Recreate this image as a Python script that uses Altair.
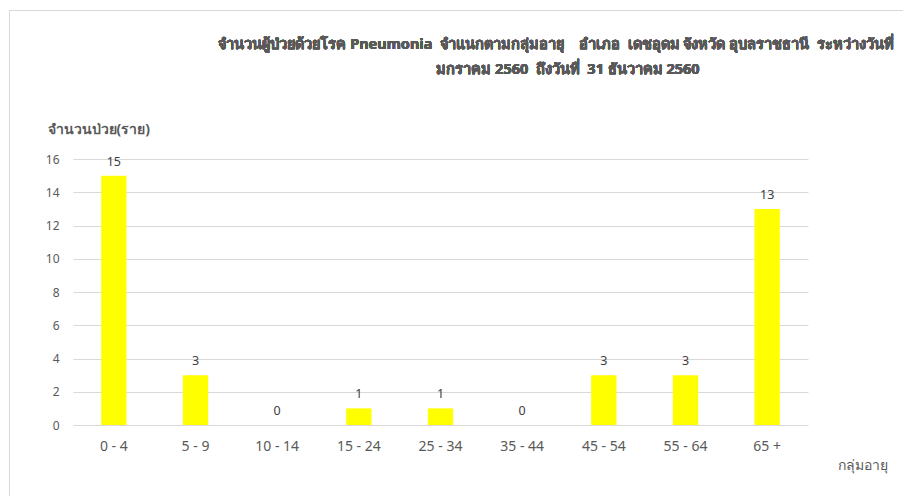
import altair as alt
import pandas as pd

categories = ["0 - 4", "5 - 9", "10 - 14", "15 - 24", "25 - 34", "35 - 44", "45 - 54", "55 - 64", "65 +"]
values = [15, 3, 0, 1, 1, 0, 3, 3, 13]
y_ticks = [0, 2, 4, 6, 8, 10, 12, 14, 16]
NB = "\u00a0"
title_line1 = ("จำนวนผู้ป่วยด้วยโรค Pneumonia " + NB + "จำแนกตามกลุ่มอายุ " + NB * 3
               + "อำเภอ " + NB + "เดชอุดม จังหวัด อุบลราชธานี " + NB + "ระหว่างวันที่")
title_line2 = "มกราคม 2560 " + NB + "ถึงวันที่ " + NB + "31 ธันวาคม 2560"
y_title = "จำนวนป่วย(ราย)"
x_title = "กลุ่มอายุ"

df = pd.DataFrame({"group": categories, "count": values})

FONT = "Noto Sans"
W, H = 735, 266

x_enc = alt.X(
    "group:N",
    sort=categories,
    scale=alt.Scale(paddingInner=0.69, paddingOuter=0.345),
    axis=alt.Axis(
        title=x_title, labelAngle=0, labelPadding=14, labelFontSize=14,
        labelColor="#595959", labelFont=FONT, domain=False, ticks=False,
        titleX=789, titleY=40, titleAlign="center", titleBaseline="middle",
        titleFontSize=14, titleFontWeight="normal", titleColor="#595959", titleFont=FONT,
    ),
)
y_enc = alt.Y(
    "count:Q",
    scale=alt.Scale(domain=[0, 16]),
    axis=alt.Axis(
        title=y_title, values=y_ticks, tickCount=20,
        labelOverlap=False,
        labelPadding=14, labelFontSize=12,
        labelColor="#595959", labelFont=FONT, domain=False, ticks=False,
        gridColor="#d9d9d9", gridWidth=1,
        titleAngle=0, titleX=-26, titleY=-30, titleAlign="left", titleBaseline="middle",
        titleFontSize=14, titleFontWeight="bold", titleColor="#595959", titleFont=FONT,
    ),
)

bars = alt.Chart(df).mark_bar(color="#ffff00").encode(x=x_enc, y=y_enc)
labels = alt.Chart(df).mark_text(
    baseline="bottom", dy=-7, fontSize=12.5, color="#404040", font=FONT
).encode(x=x_enc, y=y_enc, text="count:Q")

frame = alt.Chart(df).mark_rect(fill=None, stroke="#d9d9d9", strokeWidth=1).encode(
    x=alt.value(-63.5), x2=alt.value(W + 200), y=alt.value(-148.5), y2=alt.value(H + 200)
)

t1 = alt.Chart(df).mark_text(
    align="center", baseline="alphabetic", fontSize=14.5, fontWeight="bold",
    color="#595959", font=FONT,
).encode(x=alt.value(483), y=alt.value(-110), text=alt.value(title_line1))
t2 = alt.Chart(df).mark_text(
    align="center", baseline="alphabetic", fontSize=14.5, fontWeight="bold",
    color="#595959", font=FONT,
).encode(x=alt.value(495), y=alt.value(-85), text=alt.value(title_line2))

chart = alt.layer(bars, labels, frame, t1, t2).properties(
    width=W, height=H,
    autosize=alt.AutoSizeParams(type="none"),
    padding={"left": 65, "top": 151, "right": 95, "bottom": 71},
).configure_view(stroke=None)

chart.save("out.html", embed_options={"renderer": "svg", "actions": False})
